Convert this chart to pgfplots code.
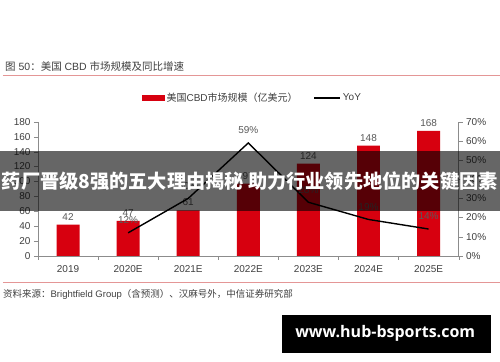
\documentclass[border=0pt]{standalone}
\usepackage{pgfplots}
\pgfplotsset{compat=1.18}
\usepackage{fontspec}
\setmainfont{Liberation Sans}
\newfontfamily\cjk{Noto Sans CJK SC}
\newfontfamily\wm{Open Sans}
\definecolor{barred}{RGB}{215,0,15}
\definecolor{axgray}{RGB}{140,140,140}
\definecolor{txt}{RGB}{64,64,64}
\definecolor{lbl}{RGB}{89,89,89}
\definecolor{pinkline}{RGB}{228,150,150}
\begin{document}
\begin{tikzpicture}
\path[fill=white] (0,0) rectangle (500pt,362pt);
% title
\node[anchor=west, text=txt, font=\fontsize{10.5}{12}\selectfont, inner sep=0pt] at (5pt,295pt) {{\cjk 图} 50{\cjk ：美国} CBD {\cjk 市场规模及同比增速}};
\draw[pinkline, line width=0.8pt] (3pt,287pt) -- (500pt,287pt);
% source
\draw[pinkline, line width=0.8pt] (3pt,79pt) -- (500pt,79pt);
\node[anchor=west, text=txt, font=\fontsize{9.5}{11}\selectfont, inner sep=0pt] at (3pt,67pt) {{\cjk 资料来源：}Brightfield Group{\cjk （含预测）、汉麻号外，中信证券研究部}};
\begin{axis}[
  at={(38pt,106pt)}, anchor=south west,
  scale only axis, width=421pt, height=134pt,
  xmin=-0.5, xmax=6.5, ymin=0, ymax=180,
  ytick={0,20,...,180},
  xtick={0,...,6},
  xticklabels={2019,2020E,2021E,2022E,2023E,2024E,2025E},
  minor xtick={-0.5,0.5,...,6.5},
  major x tick style={draw=none},
  minor x tick style={draw=axgray},
  minor tick length=4pt, major tick length=4pt,
  tick align=outside,
  axis x line*=bottom, axis y line*=left,
  axis line style={draw=axgray},
  y tick style={draw=axgray},
  ticklabel style={text=txt, font=\fontsize{10}{12}\selectfont},
  /pgf/number format/assume math mode=true,
  xticklabel style={yshift=-2pt},
  legend style={at={(0.5095,1.179)}, anchor=center, draw=none, fill=none,
    legend columns=2, font=\fontsize{10}{12}\selectfont, text=txt,
    /tikz/every even column/.append style={column sep=14pt},
    inner sep=0pt},
]
\addplot[ybar, bar width=23pt, fill=barred, draw=none,
  nodes near coords, nodes near coords style={text=lbl, font=\fontsize{10}{12}\selectfont, yshift=1pt},
  legend image code/.code={\fill[barred] (0pt,-2.8pt) rectangle (23pt,2.8pt);}]
  coordinates {(0,42) (1,47) (2,61) (3,97) (4,124) (5,148) (6,168)};
\addlegendentry{{\cjk 美国}CBD{\cjk 市场规模（亿美元）}}
\addlegendimage{legend image code/.code={\draw[black, line width=1.4pt] (0pt,0pt) -- (26pt,0pt);}}
\addlegendentry{YoY}
\end{axis}
\begin{axis}[
  at={(38pt,106pt)}, anchor=south west,
  scale only axis, width=421pt, height=134pt,
  xmin=-0.5, xmax=6.5, ymin=0, ymax=70,
  ytick={0,10,...,70},
  yticklabel={\pgfmathprintnumber{\tick}\%},
  axis y line*=right, axis x line=none,
  axis line style={draw=axgray},
  y tick style={draw=axgray},
  tick align=outside, major tick length=4pt,
  ticklabel style={text=txt, font=\fontsize{10}{12}\selectfont},
  /pgf/number format/assume math mode=true,
]
\addplot[black, line width=1.4pt, mark=none,
  nodes near coords={\pgfmathprintnumber{\pgfplotspointmeta}\%},
  nodes near coords style={text=lbl, font=\fontsize{10}{12}\selectfont, yshift=5pt}]
  coordinates {(1,12) (2,30) (3,59) (4,28) (5,19) (6,14)};
\end{axis}
% overlay banner
\fill[black, opacity=0.6] (0pt,151pt) rectangle (500pt,211pt);
\node[text=white, font=\cjk\bfseries\fontsize{19.2}{21}\selectfont, inner sep=0pt] at (250pt,181pt) {药厂晋级8强的五大理由揭秘 助力行业领先地位的关键因素};
% watermark
\fill[black] (282pt,9pt) rectangle (491pt,47pt);
\node[text=white, font=\wm\bfseries\fontsize{16}{18}\selectfont, inner sep=0pt] at (385.5pt,28pt) {www.hub-bsports.com};
\end{tikzpicture}
\end{document}
